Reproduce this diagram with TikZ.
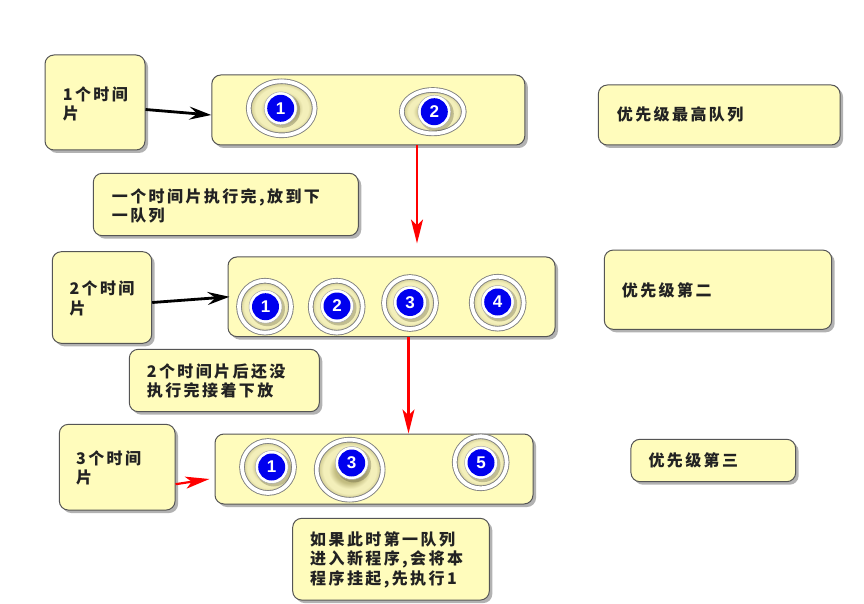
\documentclass[tikz,border=0pt]{standalone}
\usepackage{fontspec}
\setmainfont{Liberation Sans}
\newfontfamily\cjk[LetterSpace=15]{Noto Sans CJK SC}
\usetikzlibrary{shadows,arrows.meta}
\definecolor{boxfill}{HTML}{FFFCBC}
\definecolor{boxline}{HTML}{555555}
\definecolor{khaki}{HTML}{C2BC80}
\definecolor{khakilt}{HTML}{F3EFBA}
\definecolor{pblue}{HTML}{0000EE}
\definecolor{txtcol}{HTML}{222222}
\pgfdeclareradialshading{ringshade}{\pgfpoint{0bp}{0bp}}{color(0bp)=(khaki); color(11bp)=(khaki); color(16bp)=(khakilt); color(20bp)=(khakilt); color(25bp)=(khaki); color(50bp)=(khaki)}
\newcommand\proc[8]{%
  \shade[shading=ringshade] (#2,#3) ellipse [x radius=#4, y radius=#5];
  \draw[boxline!75, line width=5.6pt] (#2,#3) ellipse [x radius=#4, y radius=#5];
  \draw[white, line width=3.8pt] (#2,#3) ellipse [x radius=#4, y radius=#5];
  \fill[black!60!khaki, opacity=0.3] (#6+2,#7+2) circle[radius=17.5];
  \filldraw[fill=white, draw=boxline!50, line width=0.5pt] (#6,#7) circle[radius=16.5];
  \node[num] (#1) at (#6,#7) {#8};
}
\begin{document}
\begin{tikzpicture}[x=1pt,y=-1pt,
  box/.style={draw=boxline, line width=1pt, fill=boxfill, rounded corners=9pt, inner sep=0pt,
    drop shadow={shadow xshift=3pt, shadow yshift=-3pt, opacity=0.3, fill=black}},
  txt/.style={anchor=west, align=left, inner sep=0pt, text=txtcol,
    font=\cjk\bfseries\fontsize{16}{19.5}\selectfont},
  blackarrow/.style={line width=2.8pt, black, -{Stealth[length=22pt,width=13pt,inset=8pt]}},
  redarrow/.style={line width=2.2pt, red, -{Stealth[length=24pt,width=12pt,inset=6pt]}},
  num/.style={circle, inner sep=0pt, minimum size=27pt, fill=pblue, text=white,
    font=\bfseries\fontsize{17}{17}\selectfont}]
\useasboundingbox[fill=white] (0,0) rectangle (864,604);

% boxes
\node[box, minimum width=100pt, minimum height=95pt] (A1) at (95,102.5) {};
\node[box, minimum width=313pt, minimum height=70pt] (Q1) at (368.3,110) {};
\node[box, minimum width=241.7pt, minimum height=60pt] (P1) at (719.2,115) {};
\node[box, minimum width=265pt, minimum height=62.4pt] (N1) at (225.8,204.5) {};
\node[box, minimum width=99.4pt, minimum height=91.6pt] (A2) at (102,297.5) {};
\node[box, minimum width=327pt, minimum height=79.7pt] (Q2) at (391.5,296.8) {};
\node[box, minimum width=227.4pt, minimum height=79.3pt] (P2) at (718,289.7) {};
\node[box, minimum width=190pt, minimum height=62.4pt] (N2) at (224.3,380.5) {};
\node[box, minimum width=115.7pt, minimum height=85.7pt] (A3) at (117.2,467.2) {};
\node[box, minimum width=318pt, minimum height=70pt] (Q3) at (374,469) {};
\node[box, minimum width=164.7pt, minimum height=42.4pt] (P3) at (713.3,460.5) {};
\node[box, minimum width=196.6pt, minimum height=81.7pt] (N3) at (391,559.2) {};

% texts
\node[txt] (tA1) at (62.7,104) {1个时间\\片};
\node[txt] (tA2) at (69.3,298.3) {2个时间\\片};
\node[txt] (tA3) at (76,468) {3个时间\\片};
\node[txt] (tN1) at (111.7,205.8) {一个时间片执行完,放到下\\一队列};
\node[txt] (tN2) at (146.7,381.2) {2个时间片后还没\\执行完接着下放};
\node[txt] (tN3) at (310,559.7) {如果此时第一队列\\进入新程序,会将本\\程序挂起,先执行1};
\node[txt] (tP1) at (616.7,114.3) {优先级最高队列};
\node[txt] (tP2) at (621.7,290) {优先级第二};
\node[txt] (tP3) at (648.3,460) {优先级第三};

% processes
\proc{q1a}{281.7}{108.3}{33}{27}{280.7}{108.3}{1}
\proc{q1b}{432.8}{111.7}{31}{21.7}{434.3}{111.7}{2}
\proc{q2a}{265}{306.7}{26}{26}{265.5}{306.7}{1}
\proc{q2b}{336.7}{306.7}{26}{26}{337}{306}{2}
\proc{q2c}{410}{303}{26}{26}{410}{302.5}{3}
\proc{q2d}{497.7}{302.7}{26}{26}{497.7}{302}{4}
\proc{q3a}{268}{467}{26}{26}{271.7}{467}{1}
\proc{q3b}{349.7}{469.7}{33}{30}{351.7}{463}{3}
\proc{q3c}{480.7}{462.3}{26}{26}{481}{462.7}{5}

% arrows
\draw[blackarrow] ([yshift=-7pt]A1.east) -- ([yshift=-5pt]Q1.west);
\draw[blackarrow] ([yshift=-5pt]A2.east) -- ([xshift=2pt]Q2.west);
\draw[redarrow, shorten >=13pt] ([xshift=48.7pt]Q1.south) -- ([xshift=48.7pt]Q1.south |- Q2.north);
\draw[redarrow] ([xshift=17pt]Q2.south) -- ([xshift=17pt]Q2.south |- Q3.north);
\draw[redarrow] ([yshift=-17pt]A3.east) -- ([xshift=-5pt,yshift=-10pt]Q3.west);
\end{tikzpicture}
\end{document}
